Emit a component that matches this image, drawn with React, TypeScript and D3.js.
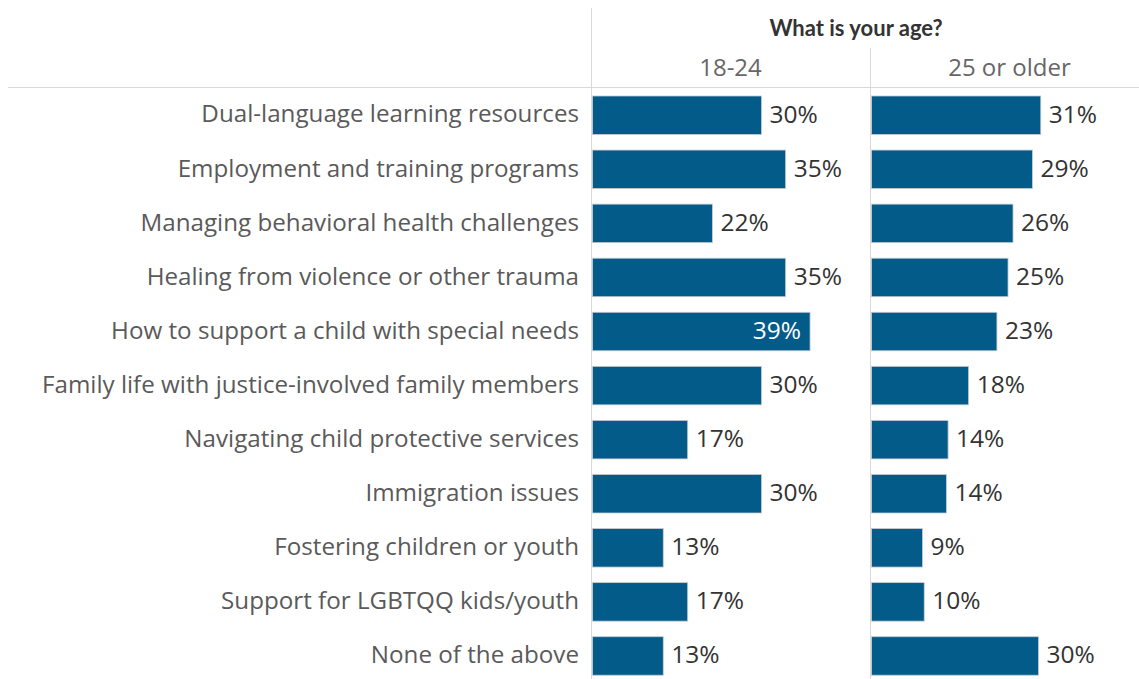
import React from "react";
import * as d3 from "d3";

const categories = [
  "Dual-language learning resources",
  "Employment and training programs",
  "Managing behavioral health challenges",
  "Healing from violence or other trauma",
  "How to support a child with special needs",
  "Family life with justice-involved family members",
  "Navigating child protective services",
  "Immigration issues",
  "Fostering children or youth",
  "Support for LGBTQQ kids/youth",
  "None of the above",
];
// estimated shares (%), labels show rounded values
const age18to24 = [30.45, 34.8, 21.6, 34.8, 39.2, 30.45, 17.15, 30.45, 12.75, 17.15, 12.75];
const age25plus = [30.5, 29.0, 25.5, 24.6, 22.6, 17.5, 13.8, 13.5, 9.2, 9.5, 30.1];
const columnLabels = ["18-24", "25 or older"];
const headerTitle = "What is your age?";

const W = 1139;
const H = 679;
const FONT = "'Open Sans', 'Noto Sans', sans-serif";
const BAR = "#035b89";
const GRID = "#d9d9d9";

export default function App() {
  const series = [age18to24, age25plus];
  const panelX = [591, 870];
  const panelW = 279;
  const x = d3.scaleLinear().domain([0, 50]).range([1.5, 1.5 + 277.5]);
  const y = d3
    .scaleBand<string>()
    .domain(categories)
    .range([88.2, 683])
    .paddingInner(0.288)
    .paddingOuter(0.144);

  return (
    <svg
      width={W}
      height={H}
      style={{ position: "fixed", left: 0, top: 0, background: "#fff" }}
      fontFamily={FONT}
    >
      {/* grid lines */}
      <line x1={591.5} x2={591.5} y1={8} y2={H} stroke={GRID} strokeWidth={1} />
      <line x1={870.5} x2={870.5} y1={48} y2={H} stroke={GRID} strokeWidth={1} />
      <line x1={8} x2={W} y1={87.5} y2={87.5} stroke={GRID} strokeWidth={1} />

      {/* header */}
      <text
        x={856}
        y={36}
        textAnchor="middle"
        fontSize={22}
        fontWeight={700}
        fill="#333"
        fontFamily="Lato, 'Open Sans', sans-serif"
      >
        {headerTitle}
      </text>
      {columnLabels.map((c, i) => (
        <text
          key={c}
          x={panelX[i] + panelW / 2}
          y={76}
          textAnchor="middle"
          fontSize={24}
          fill="#666"
        >
          {c}
        </text>
      ))}

      {/* row labels */}
      {categories.map((c) => (
        <text
          key={c}
          x={579}
          y={(y(c) as number) + y.bandwidth() / 2}
          dy="0.3em"
          textAnchor="end"
          fontSize={24.2}
          fill="#5a5a5a"
        >
          {c}
        </text>
      ))}

      {/* bars */}
      {series.map((vals, si) => (
        <g key={si} transform={`translate(${panelX[si]},0)`}>
          {vals.map((v, i) => {
            const c = categories[i];
            const y0 = y(c) as number;
            const inside = v >= 38;
            return (
              <g key={c}>
                <rect
                  x={x(0)}
                  y={y0}
                  width={x(v) - x(0)}
                  height={y.bandwidth()}
                  fill={BAR}
                  stroke="#c8ccd0"
                  strokeWidth={0.8}
                />
                <text
                  x={inside ? x(v) - 9 : x(v) + 8}
                  y={y0 + y.bandwidth() / 2}
                  dy="0.3em"
                  textAnchor={inside ? "end" : "start"}
                  fontSize={24.5}
                  fill={inside ? "#fff" : "#333"}
                >
                  {Math.round(v)}%
                </text>
              </g>
            );
          })}
        </g>
      ))}
    </svg>
  );
}
